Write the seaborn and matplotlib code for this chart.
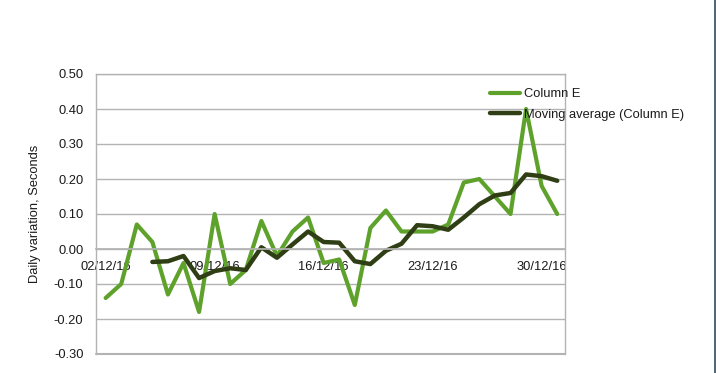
import numpy as np
import pandas as pd
import matplotlib
matplotlib.use("Agg")
import matplotlib.pyplot as plt
from matplotlib.lines import Line2D
import seaborn as sns

# data (daily values, 02/12/16 .. 31/12/16)
dates = pd.date_range("2016-12-02", "2016-12-31", freq="D")
column_e = [-0.14, -0.10, 0.07, 0.02, -0.13, -0.04, -0.18, 0.10, -0.10, -0.06,
            0.08, -0.02, 0.05, 0.09, -0.04, -0.03, -0.16, 0.06, 0.11, 0.05,
            0.05, 0.05, 0.07, 0.19, 0.20, 0.15, 0.10, 0.40, 0.18, 0.10]
# moving average trend line (starts on the 4th day)
moving_avg = [np.nan, np.nan, np.nan, -0.037, -0.035, -0.020, -0.083, -0.063, -0.055, -0.060,
              0.005, -0.025, 0.013, 0.050, 0.020, 0.018, -0.035, -0.043, -0.005, 0.015,
              0.068, 0.065, 0.055, 0.090, 0.128, 0.153, 0.160, 0.213, 0.208, 0.195]
label_days = ["02/12/16", "09/12/16", "16/12/16", "23/12/16", "30/12/16"]
y_ticks = [-0.30, -0.20, -0.10, 0.00, 0.10, 0.20, 0.30, 0.40, 0.50]

GREEN = "#5ea22c"
DARK = "#2f3e14"
GRID = "#b3b3b3"

sns.set_theme(style="white")
plt.rcParams["font.family"] = ["Liberation Sans", "DejaVu Sans"]

df = pd.DataFrame({"day": np.arange(len(dates)), "Column E": column_e,
                   "Moving average (Column E)": moving_avg})

fig = plt.figure(figsize=(7.16, 3.73), dpi=100)
ax = fig.add_axes([96 / 716, 19 / 373, 469 / 716, 280 / 373])

sns.lineplot(data=df, x="day", y="Column E", ax=ax, color=GREEN, lw=3.0,
             label="Column E")
sns.lineplot(data=df, x="day", y="Moving average (Column E)", ax=ax, color=DARK,
             lw=3.2, label="Moving average (Column E)")

ax.set_ylim(-0.30, 0.50)
ax.set_xlim(-0.62, len(dates) - 0.5)
ax.set_yticks(y_ticks)
ax.set_yticklabels([f"{v:.2f}" for v in y_ticks])
ax.yaxis.grid(True, color=GRID, lw=1.0)
ax.set_axisbelow(True)

# x axis sits on the zero line; labels centred on days, ticks on day starts
label_pos = [dates.strftime("%d/%m/%y").tolist().index(d) for d in label_days]
ax.set_xticks(label_pos)
ax.set_xticklabels(label_days)
ax.set_xticks([p - 0.5 for p in label_pos], minor=True)
ax.tick_params(axis="x", which="major", length=0, pad=9, labelsize=9.3, colors="#1a1a1a")
ax.tick_params(axis="x", which="minor", length=6, width=1, color=GRID, direction="inout")
ax.tick_params(axis="y", which="major", length=6, width=1, color=GRID, direction="out",
               labelsize=9.3, colors="#1a1a1a", pad=3)
ax.spines["bottom"].set_position(("data", 0.0))
ax.spines["bottom"].set_color(GRID)
for s in ["left", "top", "right"]:
    ax.spines[s].set_color(GRID)
    ax.spines[s].set_linewidth(1.0)
# keep the lower frame line of the plot area
ax.axhline(-0.30, color=GRID, lw=1.5, clip_on=False)

ax.set_xlabel("")
ax.set_ylabel("Daily variation, Seconds", fontsize=9.3, color="#1a1a1a", labelpad=9)

leg = ax.legend(loc="upper left", bbox_to_anchor=(0.829, 0.968), frameon=False,
                fontsize=9.3, handlelength=2.3, handletextpad=0.3, labelspacing=0.65,
                borderaxespad=0)
for t in leg.get_texts():
    t.set_color("#1a1a1a")

fig.add_artist(Line2D([0.999, 0.999], [0, 1], transform=fig.transFigure,
                      color="#2e4a60", lw=1.2))

fig.savefig("out.png", dpi=100)
